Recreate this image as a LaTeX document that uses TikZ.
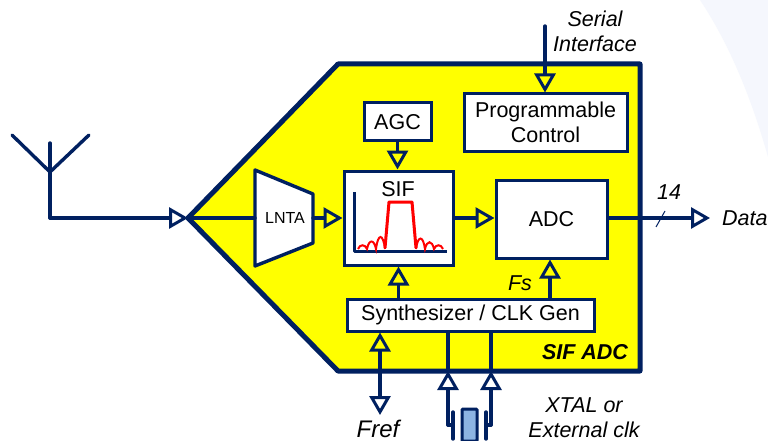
\documentclass[tikz,border=0pt]{standalone}
\usepackage{fontspec}
\setmainfont{Liberation Sans}
\usetikzlibrary{arrows.meta,positioning,calc}
\definecolor{navy}{HTML}{002060}
\definecolor{crystal}{HTML}{8DB4E2}
\definecolor{palebg}{HTML}{F5F7FD}
\definecolor{blockyellow}{HTML}{FFFF00}
\definecolor{purered}{HTML}{FF0000}
\newcommand{\fs}[1]{\fontsize{#1}{#1}\selectfont}
\tikzset{
  opentip/.tip={Triangle[open,length=19pt,width=21pt,line width=3pt]},
  wire/.style={draw=navy,line width=3.4pt,line cap=round,line join=round},
  tipped/.style={wire,-opentip},
  box/.style={draw=navy,line width=3pt,fill=white,inner sep=0pt,text=black,align=center,font=\fs{21.5}},
  lbl/.style={inner sep=0pt,align=center,font=\fs{21.5}\itshape,text=black},
}
\begin{document}
\begin{tikzpicture}[x=1pt,y=-1pt]
\useasboundingbox (0,0) rectangle (768,441);
\fill[white] (0,0) rectangle (768,441);
\fill[palebg] (700,0) .. controls (730,45) and (752,100) .. (768,157) -- (768,0) -- cycle;
% block outline
\coordinate (nose) at (188,218);
\path[fill=blockyellow] (338,64) -- (640,64) -- (640,371) -- (338,371) -- (nose) -- cycle;
\draw[navy,line width=5pt,line join=round] (338,64) -- (640,64) -- (640,371) -- (338,371) -- (nose) -- cycle;
% internal boxes
\node[box,minimum width=67pt,minimum height=38pt] (agc) at (397.5,122) {AGC};
\node[box,minimum width=163pt,minimum height=57pt] (prog) at (545.5,122.5) {Programmable\\[3pt]Control};
\node[box,minimum width=109pt,minimum height=94pt] (sif) at (398.5,218) {};
\node[inner sep=0pt,font=\fs{21.5}] (siflabel) at (398,189) {SIF};
\node[box,minimum width=111pt,minimum height=78pt] (adc) at (551.5,219) {ADC};
\node[box,minimum width=247pt,minimum height=32pt] (syn) at (470.5,315) {Synthesizer / CLK Gen};
% LNTA
\coordinate (la) at (255,170); \coordinate (lb) at (313,194);
\coordinate (lc) at (313,243); \coordinate (ld) at (255,266);
\draw[wire,fill=white] (la) -- (lb) -- (lc) -- (ld) -- cycle;
\node[inner sep=0pt,font=\fs{16}] (lnta) at (285,218) {LNTA};
% filter sketch
\draw[navy,line width=3pt,line join=round] (354,192) -- (354,251) -- (447,251);
\draw[purered,line width=3pt,line join=round] (385,248) -- (389,202) -- (412,202) -- (416,248);
\draw[purered,line width=2pt]
  (358,249) .. controls (360,244) and (365,244) .. (367,249)
  .. controls (369,239) and (374,239) .. (376,249)
  .. controls (378,233) and (383,233) .. (385,249);
\draw[purered,line width=2pt]
  (416,249) .. controls (418,235) and (423,235) .. (425,249)
  .. controls (427,240) and (432,240) .. (434,249)
  .. controls (436,244) and (441,244) .. (443,249);
% antenna
\coordinate (apex) at (50,172); \coordinate (armL) at (12,135);
\coordinate (armR) at (89,135); \coordinate (armM) at (50,143);
\coordinate (ant) at (50,218);
\draw[wire] (armL) -- (apex) -- (armR);
\draw[wire] (armM) -- (apex) -- (ant);
\draw[tipped] (ant) -- (nose);
% connectors
\draw[wire] (nose) -- (la |- nose);
\draw[tipped] (lb |- nose) -- (sif.west |- nose);
\draw[tipped] (sif.east |- nose) -- (adc.west |- nose);
\coordinate (dataEnd) at (710,218);
\draw[tipped] (adc.east |- dataEnd) -- (dataEnd);
\coordinate (s1) at (656,227); \coordinate (s2) at (665,211);
\draw[navy,line width=1pt] (s1) -- (s2);
\node[lbl] (n14) at (669,192) {14};
\node[lbl,anchor=west] (data) at (722,218) {Data};
\draw[tipped] (agc.south) -- (sif.north -| agc.south);
\draw[tipped] (syn.north -| sif.south) -- (sif.south);
\coordinate (fsx) at (550,283);
\draw[tipped] (syn.north -| fsx) -- (adc.south -| fsx);
\node[lbl] (fs) at (520,283) {Fs};
\coordinate (serial) at (545,26);
\draw[tipped] (serial) -- (prog.north -| serial);
\node[lbl] (si) at (595,31.5) {Serial\\[4pt]Interface};
\node[inner sep=0pt,font=\fs{21.5}\bfseries\itshape] (sifadc) at (585,352) {SIF ADC};
% Fref
\coordinate (fref) at (380,415);
\draw[wire,opentip-opentip] (syn.south -| fref) -- (fref);
\node[inner sep=0pt,font=\fs{24}\itshape] (freflbl) at (378,428.5) {Fref};
% crystal
\coordinate (xl) at (448,425); \coordinate (xr) at (491,425);
\coordinate (xlt) at (448,371); \coordinate (xrt) at (491,371);
\draw[wire] (syn.south -| xl) -- (xlt);
\draw[wire] (syn.south -| xr) -- (xrt);
\draw[tipped] (xl) -- (xlt);
\draw[tipped] (xr) -- (xrt);
\draw[wire] (xl) -- (453,425);
\draw[wire] (xr) -- (486,425);
\draw[wire] (453,412) -- (453,439);
\draw[wire] (486,412) -- (486,439);
\draw[navy,line width=3pt,fill=crystal,rounded corners=1pt] (462,409) rectangle (477,441);
\node[lbl] (xtal) at (584,417.5) {XTAL or\\[4pt]External clk};
\end{tikzpicture}
\end{document}
